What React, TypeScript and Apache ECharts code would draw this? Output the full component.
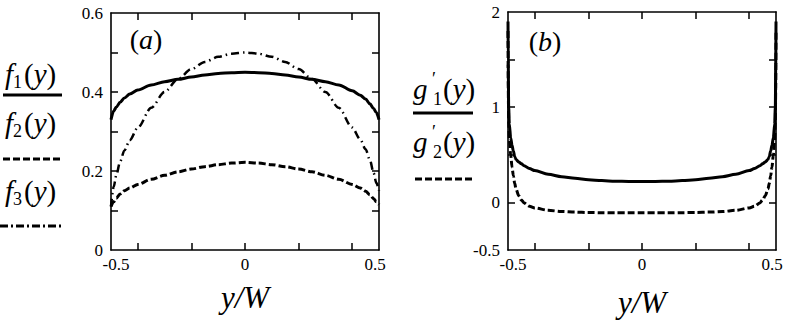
import React, { useEffect, useRef } from 'react';
import * as echarts from 'echarts';

// Panel (a)
const xA = [-0.5, -0.49, -0.48, -0.466, -0.45, -0.43, -0.4, -0.35, -0.3, -0.25, -0.2, -0.15, -0.1, -0.05, 0, 0.05, 0.1, 0.15, 0.2, 0.25, 0.3, 0.35, 0.4, 0.43, 0.45, 0.466, 0.48, 0.49, 0.5];
const f1 = [0.33, 0.352, 0.362, 0.374, 0.385, 0.395, 0.405, 0.418, 0.426, 0.432, 0.438, 0.443, 0.447, 0.449, 0.45, 0.449, 0.447, 0.443, 0.438, 0.432, 0.426, 0.418, 0.403, 0.392, 0.382, 0.37, 0.358, 0.348, 0.33];
const f2 = [0.11, 0.122, 0.131, 0.142, 0.15, 0.157, 0.166, 0.179, 0.189, 0.198, 0.205, 0.211, 0.216, 0.22, 0.222, 0.22, 0.216, 0.211, 0.205, 0.198, 0.189, 0.179, 0.166, 0.157, 0.149, 0.14, 0.13, 0.122, 0.115];
const f3 = [0.11, 0.16, 0.19, 0.224, 0.252, 0.278, 0.31, 0.36, 0.4, 0.433, 0.458, 0.476, 0.489, 0.497, 0.5, 0.497, 0.489, 0.476, 0.458, 0.433, 0.4, 0.36, 0.31, 0.28, 0.255, 0.228, 0.195, 0.17, 0.15];

// Panel (b)
const xB = [-0.5, -0.499, -0.4975, -0.495, -0.49, -0.485, -0.48, -0.475, -0.47, -0.46, -0.45, -0.44, -0.42, -0.4, -0.35, -0.3, -0.25, -0.2, -0.15, -0.1, -0.05, 0, 0.05, 0.1, 0.15, 0.2, 0.25, 0.3, 0.35, 0.4, 0.42, 0.44, 0.45, 0.46, 0.47, 0.475, 0.48, 0.485, 0.49, 0.495, 0.4975, 0.499, 0.5];
const g1 = [1.9, 1.45, 1.0, 0.82, 0.68, 0.6, 0.54, 0.48, 0.45, 0.425, 0.405, 0.385, 0.355, 0.334, 0.295, 0.27, 0.253, 0.238, 0.229, 0.223, 0.22, 0.22, 0.22, 0.223, 0.229, 0.238, 0.253, 0.27, 0.295, 0.334, 0.355, 0.385, 0.405, 0.425, 0.45, 0.48, 0.54, 0.6, 0.68, 0.82, 1.0, 1.45, 1.9];
const g2 = [1.8, 1.2, 0.85, 0.65, 0.5, 0.37, 0.28, 0.2, 0.14, 0.07, 0.025, -0.005, -0.04, -0.058, -0.083, -0.096, -0.102, -0.106, -0.108, -0.11, -0.11, -0.11, -0.11, -0.11, -0.108, -0.106, -0.102, -0.096, -0.083, -0.058, -0.04, -0.005, 0.025, 0.07, 0.14, 0.2, 0.28, 0.37, 0.5, 0.65, 0.85, 1.2, 1.8];

// Ticks and labels
const xTicks = [-0.4, -0.2, 0, 0.2, 0.4];
const xLabels = [-0.5, 0, 0.5];
const yTicksA = [0.1, 0.2, 0.3, 0.4, 0.5];
const yLabelsA = [0, 0.2, 0.4, 0.6];
const yTicksB = [0, 0.5, 1, 1.5];
const yLabelsB = [-0.5, 0, 1, 2];

const SERIF = 'Liberation Serif';

const fmt = (v: number) => {
  const r = Math.round(v * 10) / 10;
  return r === 0 ? '0' : String(r);
};

const fmtX = (v: number) => {
  const s = fmt(v);
  if (v < -0.45) return `{l|${s}}`;
  if (v > 0.45) return `{r|${s}}`;
  return `{c|${s}}`;
};

const labelText = { color: '#000', fontSize: 17, fontFamily: SERIF };

function xAxisDef(grid: number, pos: 'top' | 'bottom', showLabel: boolean) {
  return {
    type: 'value', gridIndex: grid, position: pos, min: -0.5, max: 0.5, interval: 0.1,
    axisLine: { show: true, onZero: false, lineStyle: { color: '#000', width: 1.6 } },
    axisTick: { show: true, inside: true, length: 7, customValues: xTicks, lineStyle: { color: '#000', width: 1.5 } },
    axisLabel: {
      show: showLabel, customValues: xLabels, formatter: fmtX, ...labelText, margin: 6,
      rich: {
        l: { ...labelText, padding: [0, 0, 0, 10] },
        r: { ...labelText, padding: [0, 8, 0, 0] },
        c: { ...labelText },
      },
    },
    splitLine: { show: false },
  };
}

function yAxisDef(grid: number, pos: 'left' | 'right', showLabel: boolean, min: number, max: number, interval: number, ticks: number[], labels: number[]) {
  return {
    type: 'value', gridIndex: grid, position: pos, min, max, interval,
    axisLine: { show: true, onZero: false, lineStyle: { color: '#000', width: 1.6 } },
    axisTick: { show: true, inside: true, length: 7, customValues: ticks, lineStyle: { color: '#000', width: 1.5 } },
    axisLabel: { show: showLabel, customValues: labels, formatter: fmt, ...labelText, margin: 8 },
    splitLine: { show: false },
  };
}

const txt = (text: string, x: number, y: number, size: number, italic: boolean, align = 'left') => ({
  type: 'text', x, y, silent: true,
  style: { text, fontSize: size, fontFamily: SERIF, fontStyle: italic ? 'italic' : 'normal', fill: '#000', align, verticalAlign: 'middle' },
});

const richTxt = (text: string, x: number, y: number, size: number, align = 'left') => ({
  type: 'text', x, y, silent: true,
  style: {
    text, fill: '#000', align, verticalAlign: 'middle', fontSize: size, fontFamily: SERIF,
    rich: {
      u: { fontSize: size, fontFamily: SERIF, fill: '#000' },
      i: { fontSize: size, fontFamily: SERIF, fontStyle: 'italic', fill: '#000' },
    },
  },
});

const hline = (x1: number, x2: number, y: number, dash?: number[]) => ({
  type: 'line', silent: true,
  shape: { x1, y1: y, x2, y2: y },
  style: { stroke: '#000', lineWidth: 3, lineDash: dash },
});

export default function App() {
  const ref = useRef<HTMLDivElement>(null);
  useEffect(() => {
    if (!ref.current) return;
    const chart = echarts.init(ref.current, undefined, { renderer: 'svg' });
    const line = (name: string, xs: number[], ys: number[], xi: number, yi: number, dash: any, width: number) => ({
      name, type: 'line', xAxisIndex: xi, yAxisIndex: yi,
      data: xs.map((x, i) => [x, ys[i]]),
      showSymbol: false, smooth: 0.3, smoothMonotone: 'x',
      lineStyle: { color: '#000', width, type: dash },
    });
    chart.setOption({
      animation: false,
      backgroundColor: '#fff',
      textStyle: { fontFamily: SERIF },
      grid: [
        { left: 111, top: 13, width: 268, height: 237 },
        { left: 508, top: 12, width: 268, height: 238 },
      ],
      xAxis: [
        xAxisDef(0, 'bottom', true),
        xAxisDef(0, 'top', false),
        xAxisDef(1, 'bottom', true),
        xAxisDef(1, 'top', false),
      ],
      yAxis: [
        yAxisDef(0, 'left', true, 0, 0.6, 0.1, yTicksA, yLabelsA),
        yAxisDef(0, 'right', false, 0, 0.6, 0.1, yTicksA, yLabelsA),
        yAxisDef(1, 'left', true, -0.5, 2, 0.5, yTicksB, yLabelsB),
        yAxisDef(1, 'right', false, -0.5, 2, 0.5, yTicksB, yLabelsB),
      ],
      series: [
        line('f1', xA, f1, 0, 0, 'solid', 3),
        line('f2', xA, f2, 0, 0, [7, 3], 3),
        line('f3', xA, f3, 0, 0, [8, 4, 1.5, 4], 2.5),
        line('g1', xB, g1, 2, 2, 'solid', 3),
        line('g2', xB, g2, 2, 2, [7, 3], 3),
      ],
      graphic: [
        // legend (a)
        txt('f', 5, 74, 29, true), txt('1', 13, 82, 18, false), richTxt('{u|(}{i|y}{u|)}', 24, 74, 29),
        hline(3, 62, 95),
        txt('f', 5, 123, 29, true), txt('2', 13, 131, 18, false), richTxt('{u|(}{i|y}{u|)}', 24, 123, 29),
        hline(3, 62, 159, [7, 3]),
        txt('f', 5, 191, 29, true), txt('3', 13, 199, 18, false), richTxt('{u|(}{i|y}{u|)}', 24, 191, 29),
        hline(0, 61, 226, [8, 3, 2, 3]),
        // legend (b)
        txt('g', 413, 89, 29, true), txt('\u2032', 432, 79, 18, false), txt('1', 433, 99, 18, false), richTxt('{u|(}{i|y}{u|)}', 443, 89, 29),
        hline(413, 473, 113),
        txt('g', 413, 142, 29, true), txt('\u2032', 432, 132, 18, false), txt('2', 433, 152, 18, false), richTxt('{u|(}{i|y}{u|)}', 443, 142, 29),
        hline(415, 473, 179, [7, 3]),
        // panel labels
        richTxt('{u|(}{i|a}{u|)}', 146, 39, 28, 'center'),
        richTxt('{u|(}{i|b}{u|)}', 545, 41, 28, 'center'),
        // axis titles
        txt('y/W', 245, 297, 31, true, 'center'),
        txt('y/W', 642, 302, 31, true, 'center'),
      ],
    });
    return () => chart.dispose();
  }, []);
  return <div ref={ref} style={{ position: 'absolute', left: 0, top: 0, width: 789, height: 321 }} />;
}
